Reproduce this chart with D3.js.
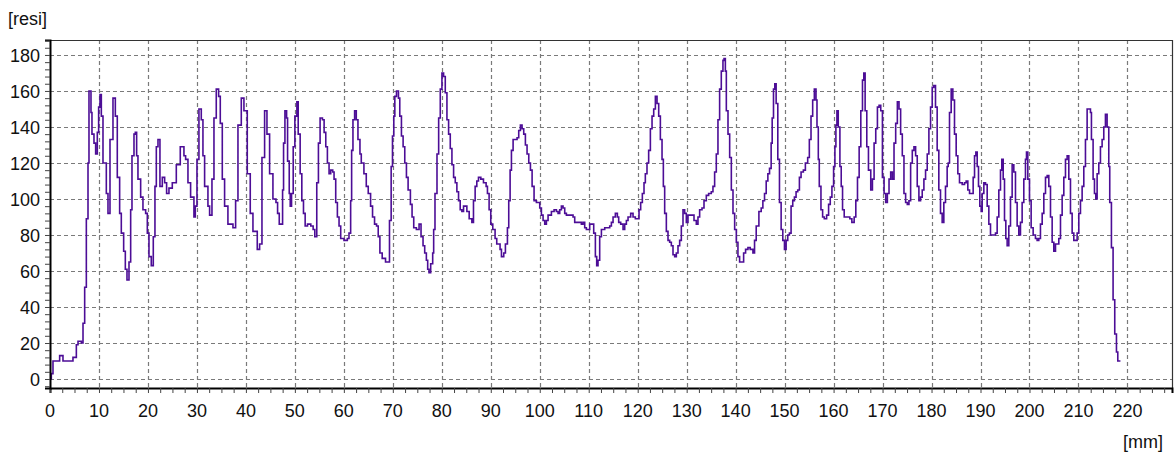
<!DOCTYPE html>
<html>
<head>
<meta charset="utf-8">
<script src="https://cdn.jsdelivr.net/npm/d3@7"></script>
<style>
  html, body { margin: 0; padding: 0; background: #fff; }
  text { font-family: "Liberation Sans", Arial, sans-serif; font-size: 18px; fill: #111; }
</style>
</head>
<body>
<div id="chart"></div>
<script>
// resistance profile, [depth mm, resi]
const profile = [
  [0,0],[0.27,3],[0.61,10],[1.77,10],[1.97,13],[2.65,10],[4.35,10],[4.69,12],[5.38,19],[5.72,21],[6.40,20],
  [6.74,31],[7.08,51],[7.42,89],[7.76,120],[7.96,160],[8.23,160],[8.37,148],[8.57,136],[8.98,131],[9.32,125],
  [9.66,137],[9.93,151],[10.21,158],[10.48,146],[10.82,120],[11.50,103],[11.84,92],[12.25,133],[12.86,156],
  [13.34,146],[13.74,112],[14.22,92],[14.56,81],[15.04,71],[15.38,61],[15.72,55],[16.13,65],[16.47,94],
  [16.74,124],[17.15,136],[17.42,137],[17.69,124],[17.96,111],[18.51,101],[18.98,94],[19.53,92],[19.87,81],
  [20.21,68],[20.68,63],[21.09,79],[21.43,107],[21.71,129],[22.05,133],[22.45,107],[22.93,112],[23.41,109],
  [23.81,103],[24.29,106],[24.97,109],[25.79,119],[26.60,129],[27.35,124],[27.69,122],[28.17,109],[28.71,101],
  [29.39,90],[29.67,96],[30.01,122],[30.41,150],[30.89,144],[31.23,124],[31.57,107],[32.25,96],[32.59,91],
  [33.07,111],[33.48,145],[33.95,161],[34.43,157],[34.77,142],[35.18,111],[35.65,96],[36.33,86],[37.36,84],
  [37.90,99],[38.38,141],[39.06,156],[39.60,149],[40.28,114],[40.89,92],[41.44,82],[42.32,72],[42.80,75],
  [43.28,123],[43.82,149],[44.30,136],[44.84,114],[45.52,100],
  [46.14,98],[46.47,92],[46.81,86],[47.15,86],[47.49,105],[47.69,131],[47.97,149],[48.31,145],[48.51,121],
  [48.85,103],[49.05,96],[49.32,103],[49.66,129],[50.00,146],[50.41,154],[50.68,136],[51.08,114],[51.42,99],
  [51.76,92],[52.10,85],[52.58,86],[53.25,85],[53.73,83],[54.07,79],[54.47,109],[54.81,131],[55.15,145],
  [55.63,144],[55.97,137],[56.31,129],[56.64,120],[56.98,114],[57.32,116],[57.73,115],[58.00,111],[58.34,98],
  [58.68,90],[59.02,85],[59.36,78],[60.03,77],[60.71,78],[61.05,81],[61.39,99],[61.59,127],[61.86,144],
  [62.20,149],[62.54,144],[62.88,133],[63.29,125],[63.56,120],[64.10,114],[64.58,107],[64.98,103],[65.46,96],
  [65.86,90],[66.27,86],[66.68,85],[67.02,79],[67.36,70],[67.83,67],[68.51,65],[68.98,65],[69.32,88],
  [69.66,118],[69.93,135],[70.20,146],[70.41,157],[70.75,160],[71.15,156],[71.42,146],[71.76,135],[72.10,129],
  [72.44,120],[72.78,112],[73.12,105],[73.59,97],[73.93,90],[74.27,84],[74.81,83],[75.36,86],[75.76,79],
  [76.17,74],[76.51,70],[76.85,66],[77.12,61],[77.39,59],[77.73,64],[78.14,70],[78.34,83],[78.61,103],
  [79.02,125],[79.36,145],[79.69,161],[80.03,170],[80.37,168],[80.71,159],[81.05,144],[81.39,136],[81.73,128],
  [82.07,119],[82.41,112],[82.75,109],[83.08,104],[83.42,99],[83.76,94],[84.10,93],[84.44,96],[84.78,96],
  [85.12,93],[85.59,89],[86.14,87],[86.47,99],[86.81,107],[87.15,110],[87.49,112],[87.97,111],[88.51,109],
  [89.05,107],[89.32,103],[89.66,94],[90.00,86],[90.41,83],[90.88,78],[91.22,75],[91.90,72],
  [92.18,68],[92.65,70],[92.99,75],[93.40,84],[93.67,99],[93.95,116],[94.22,127],[94.56,133],[95.03,133],
  [95.37,134],[95.71,138],[96.05,141],[96.39,139],[96.73,136],[97.07,130],[97.41,125],[97.76,120],[98.10,116],
  [98.44,107],[98.84,99],[99.32,98],[99.66,98],[100.00,95],[100.34,91],[100.68,88],[101.02,86],[101.36,88],
  [101.70,91],[102.38,93],[102.93,94],[103.40,93],[103.74,92],[104.08,94],[104.42,96],[104.76,95],[105.10,92],
  [105.44,91],[106.12,91],[106.80,90],[107.14,87],[107.82,87],[108.50,86],[108.84,87],[109.18,84],[109.52,83],
  [110.20,86],[110.68,86],[111.02,81],[111.36,68],[111.63,63],[111.90,66],[112.24,79],[112.59,83],[113.27,84],
  [113.95,84],[114.29,85],[114.63,87],[114.97,90],[115.44,92],[115.85,90],[116.12,87],[116.53,86],[117.01,83],
  [117.35,86],[117.69,88],[118.03,90],[118.57,92],[119.05,90],[119.52,89],[119.93,89],[120.27,94],[120.61,98],
  [120.95,103],[121.29,109],[121.56,114],[121.90,120],[122.24,127],[122.59,139],[122.93,146],[123.27,150],
  [123.61,157],[123.95,153],[124.29,146],[124.63,133],[124.97,122],[125.24,107],[125.51,92],[125.85,82],
  [126.19,77],[126.53,76],[126.87,74],[127.21,69],[127.55,68],[127.89,70],[128.23,74],[128.57,77],[128.91,85],
  [129.25,94],[129.59,92],[129.93,87],[130.27,91],[130.95,91],[131.50,88],[131.97,86],[132.31,90],[132.65,94],
  [133.13,95],[133.54,99],[134.01,102],[134.49,103],[135.03,104],[135.37,107],[135.71,115],[136.05,125],
  [136.39,144],[136.73,161],[137.07,171],[137.41,177],
  [137.63,178],[137.90,171],[138.10,149],[138.44,136],[138.78,123],[139.12,105],[139.46,92],[139.80,83],
  [140.14,76],[140.47,68],[140.81,65],[141.29,65],[141.63,70],[142.03,72],[142.51,73],[142.98,72],[143.53,70],
  [143.86,77],[144.20,85],[144.75,93],[145.22,95],[145.56,99],[145.90,103],[146.24,110],[146.58,114],
  [146.92,117],[147.25,131],[147.46,145],[147.73,161],[148.00,164],[148.27,153],[148.61,122],[148.95,98],
  [149.29,83],[149.63,77],[149.97,72],[150.31,77],[150.64,80],[150.98,81],[151.32,96],[151.66,99],[152.00,101],
  [152.34,104],[152.68,105],[153.02,112],[153.36,115],[153.83,116],[154.24,120],[154.71,123],[155.05,133],
  [155.39,146],[155.73,155],[156.07,161],[156.41,155],[156.61,140],[156.88,122],[157.08,107],[157.42,94],
  [157.76,90],[158.10,89],[158.58,91],[158.98,97],[159.32,101],[159.66,107],[160.00,118],[160.27,129],
  [160.47,141],[160.68,149],[160.95,140],[161.29,118],[161.56,107],[161.83,94],[162.17,90],[162.85,90],
  [163.32,89],[163.73,87],[164.20,90],[164.54,99],[164.88,112],[165.22,129],[165.56,149],[165.90,166],
  [166.17,170],[166.44,149],[166.78,129],[167.12,116],[167.59,105],[167.93,111],[168.27,131],[168.61,139],
  [168.95,151],[169.29,152],[169.63,149],[169.97,112],[170.31,103],[170.64,98],[170.98,103],[171.32,111],
  [171.66,115],[172.00,111],[172.34,131],[172.68,142],[173.02,154],[173.36,150],[173.69,136],[174.03,124],
  [174.37,103],[174.71,98],[175.05,97],[175.39,99],[175.73,120],[176.07,127],[176.41,129],[176.75,124],
  [177.08,107],[177.42,99],[177.76,101],[178.10,105],[178.44,111],[178.78,116],[179.12,125],[179.46,139],
  [179.80,151],[180.14,162],[180.47,163],[180.81,151],[181.15,127],[181.49,105],[181.83,92],[182.17,87],
  [182.51,98],[182.85,107],[183.19,118],
  [183.40,120],[183.67,148],[184.01,161],[184.35,155],[184.69,136],[185.03,124],[185.37,114],[185.71,109],
  [186.26,108],[186.73,109],[187.07,110],[187.41,105],[187.76,103],[188.30,103],[188.50,112],[188.78,124],
  [189.05,126],[189.32,118],[189.59,107],[189.86,96],[190.14,93],[190.34,103],[190.68,109],[191.02,108],
  [191.36,96],[191.70,86],[192.04,80],[192.52,80],[193.06,81],[193.40,90],[193.74,105],[194.08,116],
  [194.35,122],[194.63,111],[194.90,88],[195.17,78],[195.44,74],[195.78,85],[196.12,101],[196.46,119],
  [196.80,115],[197.14,98],[197.48,85],[197.82,80],[198.16,87],[198.50,98],[198.84,111],[199.18,122],
  [199.39,126],[199.66,111],[200.00,99],[200.34,84],[200.75,80],[201.22,78],[201.56,77],[201.90,78],
  [202.24,86],[202.59,92],[202.93,103],[203.27,112],[203.61,113],[203.95,107],[204.29,90],[204.63,76],
  [204.97,71],[205.31,75],[205.99,78],[206.33,91],[206.67,102],[207.01,112],[207.35,122],[207.69,124],
  [208.03,111],[208.37,92],[208.71,81],[209.05,77],[209.39,77],[209.73,81],[210.07,92],[210.41,99],
  [210.75,107],[211.09,118],[211.43,133],[211.77,150],[212.11,150],[212.45,148],[212.65,133],[212.99,111],
  [213.27,103],[213.54,100],[213.81,114],[214.15,120],[214.49,129],[214.83,133],[215.17,140],[215.51,147],
  [215.85,140],[216.19,118],[216.39,98],[216.73,73],[217.07,44],[217.41,25],[217.76,15],[218.03,10],[218.57,10]
];

// axis ticks and labels
const xTicks = d3.range(0, 221, 10);
const xMinorTicks = d3.range(0, 229, 2.5);
const yTicks = d3.range(0, 181, 20);
const yMinorTicks = d3.range(-4, 189, 4);
const yLabel = "[resi]";
const xLabel = "[mm]";

(() => {
  const width = 1174, height = 457;
  const plot = { left: 50, right: 1172, top: 40, bottom: 388 };

  const svg = d3.select("#chart")
    .append("svg")
    .attr("width", width)
    .attr("height", height);

  const x = d3.scaleLinear().domain([0, 229.1]).range([plot.left, plot.right]);
  const y = d3.scaleLinear().domain([-5, 188.3]).range([plot.bottom, plot.top]);

  // dashed grid
  const grid = svg.append("g")
    .attr("stroke", "#7a7a7a")
    .attr("stroke-width", 1.2)
    .attr("stroke-dasharray", "4,3");
  grid.selectAll(".gx")
    .data(xTicks.filter(d => d > 0))
    .enter().append("line")
    .attr("x1", d => Math.round(x(d)) + 0.5)
    .attr("x2", d => Math.round(x(d)) + 0.5)
    .attr("y1", plot.top)
    .attr("y2", plot.bottom);
  grid.selectAll(".gy")
    .data(yTicks)
    .enter().append("line")
    .attr("x1", plot.left)
    .attr("x2", plot.right)
    .attr("y1", d => Math.round(y(d)) + 0.5)
    .attr("y2", d => Math.round(y(d)) + 0.5);

  // top and right border
  svg.append("path")
    .attr("d", `M${plot.left},${plot.top + 0.5}H${plot.right + 0.5}V${plot.bottom}`)
    .attr("fill", "none")
    .attr("stroke", "#333")
    .attr("stroke-width", 1.2);

  // profile line
  const line = d3.line()
    .x(d => x(d[0]))
    .y(d => y(d[1]))
    .curve(d3.curveStepAfter);
  svg.append("path")
    .datum(profile)
    .attr("d", line)
    .attr("fill", "none")
    .attr("stroke", "#4c0d96")
    .attr("stroke-width", 1.6);

  // axes with minor ticks, labels set separately
  const xAxis = svg.append("g")
    .attr("transform", `translate(0,${plot.bottom})`)
    .call(d3.axisBottom(x).tickValues(xMinorTicks).tickSize(5).tickFormat(""));
  xAxis.select(".domain").attr("stroke", "#000").attr("stroke-width", 2);
  xAxis.selectAll(".tick line").attr("stroke", "#444");
  xAxis.selectAll(".lbl")
    .data(xTicks)
    .enter().append("text")
    .attr("x", d => x(d))
    .attr("y", 29)
    .attr("text-anchor", "middle")
    .text(d => d);

  const yAxis = svg.append("g")
    .attr("transform", `translate(${plot.left},0)`)
    .call(d3.axisLeft(y).tickValues(yMinorTicks).tickSize(5).tickFormat(""));
  yAxis.select(".domain").attr("stroke", "#000").attr("stroke-width", 2);
  yAxis.selectAll(".tick line").attr("stroke", "#444");
  yAxis.selectAll(".lbl")
    .data(yTicks)
    .enter().append("text")
    .attr("x", -10)
    .attr("y", d => y(d) + 7)
    .attr("text-anchor", "end")
    .text(d => d);

  // unit labels
  svg.append("text")
    .attr("x", 8)
    .attr("y", 25)
    .text(yLabel);
  svg.append("text")
    .attr("x", 1163)
    .attr("y", 448)
    .attr("text-anchor", "end")
    .text(xLabel);
})();
</script>
</body>
</html>
